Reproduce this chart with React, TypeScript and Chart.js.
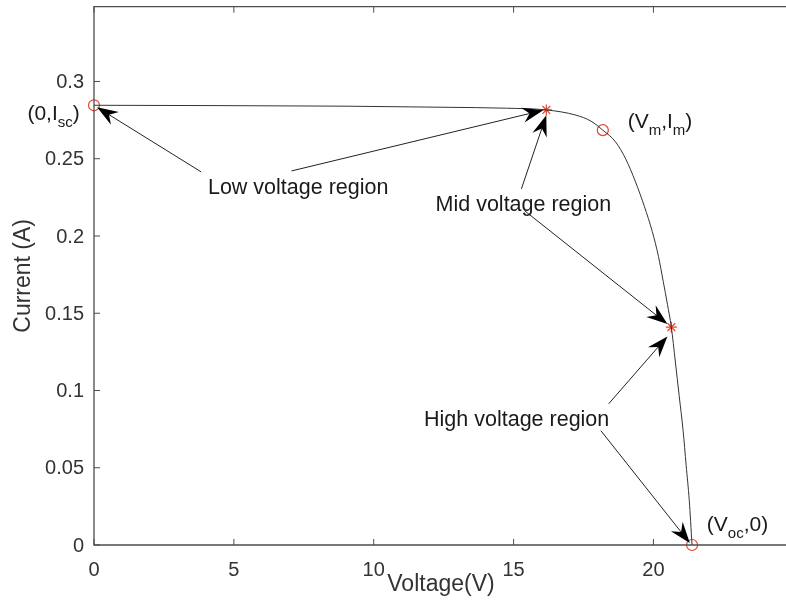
import React, { useEffect, useRef } from "react";
import { Chart, registerables } from "chart.js";

Chart.register(...registerables);

// I-V curve
const voltage = [0, 9.08, 12.62, 14.75, 16.17, 17.23, 17.77, 18.19, 18.65, 19.01, 19.36, 19.68, 19.96, 20.18, 20.35, 20.5, 20.64, 20.78, 20.92, 21.06, 21.17, 21.28, 21.38];
const current = [0.2846, 0.284, 0.2833, 0.2827, 0.2816, 0.2782, 0.2743, 0.2685, 0.2608, 0.2498, 0.235, 0.2189, 0.2028, 0.1867, 0.1706, 0.1558, 0.141, 0.1191, 0.0966, 0.0741, 0.0515, 0.029, 0];

// Key points (red circles): Isc, MPP, Voc
const keyV = [0, 18.19, 21.38];
const keyI = [0.2846, 0.2685, 0];

// Region boundary points (red stars)
const starV = [16.17, 20.64];
const starI = [0.2816, 0.141];

const xTicks = [0, 5, 10, 15, 20];
const yTicks = [0, 0.05, 0.1, 0.15, 0.2, 0.25, 0.3];
const xTickLabels = ["0", "5", "10", "15", "20"];
const yTickLabels = ["0", "0.05", "0.1", "0.15", "0.2", "0.25", "0.3"];
const xMin = 0, xMax = 25, yMin = 0, yMax = 0.3484;

// Arrows (data coordinates): from -> to
const arrowFromV = [3.83, 7.06, 15.28, 15.39, 18.4, 18.12];
const arrowFromI = [0.2415, 0.2421, 0.2305, 0.2164, 0.0914, 0.074];
const arrowToV = [0.11, 16.06, 16.17, 20.5, 20.5, 21.3];
const arrowToI = [0.2833, 0.2814, 0.2782, 0.143, 0.135, 0.0013];

// Region texts
const regionText = ["Low voltage region", "Mid voltage region", "High voltage region"];
const regionV = [7.3, 15.35, 15.11];
const regionI = [0.2312, 0.2202, 0.0811];

// Point labels with subscripts: [text, isSubscript]
const pointLabelParts: [string, boolean][][] = [
  [["(0,I", false], ["sc", true], [")", false]],
  [["(V", false], ["m", true], [",I", false], ["m", true], [")", false]],
  [["(V", false], ["oc", true], [",0)", false]],
];
const pointLabelV = [-2.38, 19.08, 21.91];
const pointLabelI = [0.2788, 0.2737, 0.0129];

const xTitle = "Voltage(V)";
const yTitle = "Current (A)";

const FONT = "'Liberation Sans', Arial, sans-serif";
const AXIS = "#4d4d4d";
const RED = "#e8432e";

function drawArrow(ctx: CanvasRenderingContext2D, x1: number, y1: number, x2: number, y2: number) {
  const dx = x2 - x1, dy = y2 - y1;
  const len = Math.hypot(dx, dy);
  const ux = dx / len, uy = dy / len;
  const px = -uy, py = ux;
  const L = 21, W = 7.5, notch = 14;
  ctx.beginPath();
  ctx.moveTo(x1, y1);
  ctx.lineTo(x2 - ux * notch, y2 - uy * notch);
  ctx.stroke();
  ctx.beginPath();
  ctx.moveTo(x2, y2);
  ctx.lineTo(x2 - ux * L + px * W, y2 - uy * L + py * W);
  ctx.lineTo(x2 - ux * notch, y2 - uy * notch);
  ctx.lineTo(x2 - ux * L - px * W, y2 - uy * L - py * W);
  ctx.closePath();
  ctx.fill();
}

const overlay = {
  id: "overlay",
  afterDraw(chart: any) {
    const ctx: CanvasRenderingContext2D = chart.ctx;
    const { left, right, top, bottom } = chart.chartArea;
    const xs = chart.scales.x;
    const ys = chart.scales.y;
    ctx.save();
    // box (left, bottom, top)
    ctx.strokeStyle = AXIS;
    ctx.lineWidth = 1.3;
    ctx.beginPath();
    ctx.moveTo(right, top);
    ctx.lineTo(left, top);
    ctx.lineTo(left, bottom);
    ctx.lineTo(right, bottom);
    ctx.stroke();
    // inward ticks
    ctx.lineWidth = 1;
    ctx.beginPath();
    xTicks.forEach((v) => {
      const x = xs.getPixelForValue(v);
      ctx.moveTo(x, bottom);
      ctx.lineTo(x, bottom - 6);
      ctx.moveTo(x, top);
      ctx.lineTo(x, top + 6);
    });
    yTicks.forEach((v) => {
      const y = ys.getPixelForValue(v);
      ctx.moveTo(left, y);
      ctx.lineTo(left + 6, y);
    });
    ctx.stroke();

    // tick labels
    ctx.fillStyle = "#333333";
    ctx.font = `20px ${FONT}`;
    ctx.textBaseline = "middle";
    ctx.textAlign = "center";
    xTicks.forEach((v, i) => {
      ctx.fillText(xTickLabels[i], xs.getPixelForValue(v), bottom + 25);
    });
    ctx.textAlign = "right";
    yTicks.forEach((v, i) => {
      ctx.fillText(yTickLabels[i], left - 10, ys.getPixelForValue(v) + 1);
    });

    // axis titles
    ctx.font = `23px ${FONT}`;
    ctx.textAlign = "center";
    ctx.fillText(xTitle, 441, bottom + 40);
    ctx.save();
    ctx.translate(24, (top + bottom) / 2);
    ctx.rotate(-Math.PI / 2);
    ctx.fillText(yTitle, 0, 0);
    ctx.restore();

    // arrows
    ctx.strokeStyle = "#222222";
    ctx.fillStyle = "#000000";
    ctx.lineWidth = 1;
    arrowFromV.forEach((v, i) => {
      drawArrow(
        ctx,
        xs.getPixelForValue(v),
        ys.getPixelForValue(arrowFromI[i]),
        xs.getPixelForValue(arrowToV[i]),
        ys.getPixelForValue(arrowToI[i])
      );
    });

    // region texts
    ctx.fillStyle = "#1a1a1a";
    ctx.font = `21.5px ${FONT}`;
    ctx.textAlign = "center";
    ctx.textBaseline = "middle";
    regionText.forEach((t, i) => {
      ctx.fillText(t, xs.getPixelForValue(regionV[i]), ys.getPixelForValue(regionI[i]));
    });

    // point labels with subscripts
    ctx.textAlign = "left";
    pointLabelParts.forEach((parts, i) => {
      let x = xs.getPixelForValue(pointLabelV[i]);
      const y = ys.getPixelForValue(pointLabelI[i]);
      parts.forEach(([t, sub]) => {
        ctx.font = sub ? `15px ${FONT}` : `21px ${FONT}`;
        ctx.fillText(t, x, sub ? y + 9 : y);
        x += ctx.measureText(t).width;
      });
    });
    ctx.restore();
  },
};

export default function App() {
  const ref = useRef<HTMLCanvasElement | null>(null);
  useEffect(() => {
    if (!ref.current) return;
    const chart = new Chart(ref.current, {
      type: "scatter",
      data: {
        datasets: [
          {
            label: "I-V",
            data: voltage.map((v, i) => ({ x: v, y: current[i] })),
            showLine: true,
            borderColor: "#333333",
            borderWidth: 1,
            pointRadius: 0,
            cubicInterpolationMode: "monotone",
            clip: false,
          },
          {
            label: "key points",
            data: keyV.map((v, i) => ({ x: v, y: keyI[i] })),
            showLine: false,
            pointStyle: "circle",
            pointRadius: 5.5,
            borderColor: RED,
            backgroundColor: "rgba(0,0,0,0)",
            borderWidth: 1.2,
            clip: false,
          },
          {
            label: "region points",
            data: starV.map((v, i) => ({ x: v, y: starI[i] })),
            showLine: false,
            pointStyle: "star",
            pointRadius: 5.5,
            borderColor: RED,
            backgroundColor: RED,
            borderWidth: 1.2,
            clip: false,
          },
        ],
      },
      options: {
        animation: false,
        responsive: false,
        layout: { padding: { left: 0, right: 1, top: 4, bottom: 0 } },
        plugins: { legend: { display: false }, tooltip: { enabled: false } },
        scales: {
          x: {
            type: "linear",
            min: xMin,
            max: xMax,
            grid: { display: false, drawTicks: false },
            border: { display: false },
            ticks: { display: false },
            afterFit: (s: any) => {
              s.height = 60;
            },
          },
          y: {
            type: "linear",
            min: yMin,
            max: yMax,
            grid: { display: false, drawTicks: false },
            border: { display: false },
            ticks: { display: false },
            afterFit: (s: any) => {
              s.width = 94;
            },
          },
        },
      },
      plugins: [overlay],
    });
    return () => chart.destroy();
  }, []);
  return (
    <div style={{ position: "fixed", left: 0, top: 0, width: 786, height: 605, overflow: "hidden", background: "#fff" }}>
      <canvas ref={ref} width={800} height={605} style={{ width: 800, height: 605, display: "block" }} />
    </div>
  );
}
